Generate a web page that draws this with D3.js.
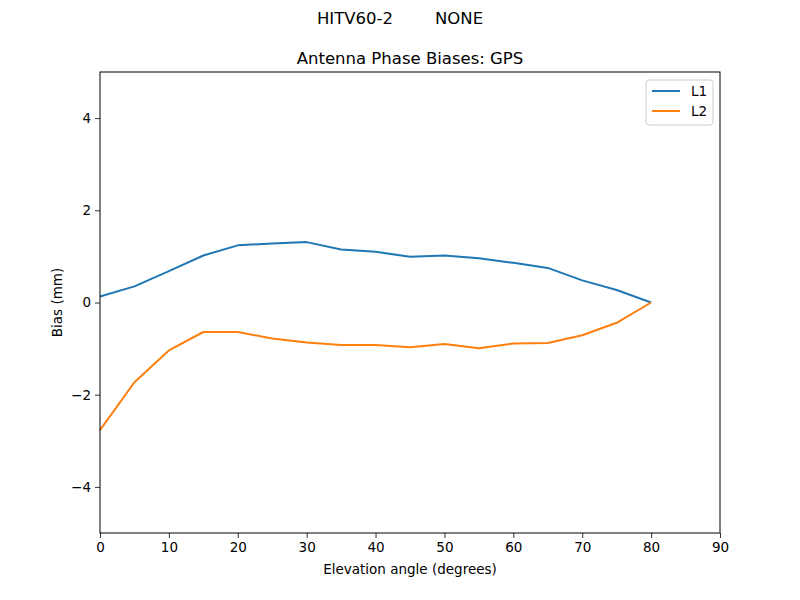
<!DOCTYPE html>
<html>
<head>
<meta charset="utf-8">
<script src="https://cdn.jsdelivr.net/npm/d3@7"></script>
<style>
  body { margin: 0; background: #fff; }
  text { font-family: "DejaVu Sans", sans-serif; fill: #000; }
</style>
</head>
<body>
<svg id="chart" width="800" height="600"></svg>
<script>
// elevation angles (degrees)
var elevation = [0, 5, 10, 15, 20, 25, 30, 35, 40, 45, 50, 55, 60, 65, 70, 75, 80];
// bias values (mm)
var l1 = [0.13, 0.35, 0.68, 1.02, 1.24, 1.28, 1.31, 1.15, 1.10, 0.99, 1.02, 0.96, 0.86, 0.75, 0.48, 0.27, 0.0];
var l2 = [-2.77, -1.73, -1.04, -0.64, -0.64, -0.78, -0.87, -0.92, -0.92, -0.97, -0.90, -0.99, -0.89, -0.88, -0.71, -0.44, 0.0];
var seriesNames = ["L1", "L2"];
var seriesColors = ["#1f77b4", "#ff7f0e"];
var xTicks = [0, 10, 20, 30, 40, 50, 60, 70, 80, 90];
var yTicks = [-4, -2, 0, 2, 4];

var svg = d3.select("#chart");
// note: "top" is taken by window.top, so keep plot edges in one place
var plotLeft = 100, plotRight = 720, plotTop = 72, plotBottom = 533;

var x = d3.scaleLinear().domain([0, 90]).range([plotLeft, plotRight]);
var y = d3.scaleLinear().domain([-5, 5]).range([plotBottom, plotTop]);

var fmt = function(d) { return d < 0 ? "\u2212" + Math.abs(d) : String(d); };

// titles
svg.append("text")
  .attr("x", 400).attr("y", 24)
  .attr("text-anchor", "middle")
  .style("font-size", "16.5px")
  .style("white-space", "pre")
  .text("HITV60-2        NONE");

svg.append("text")
  .attr("x", 410).attr("y", 64)
  .attr("text-anchor", "middle")
  .style("font-size", "16.5px")
  .text("Antenna Phase Biases: GPS");

// axes
var xAxis = svg.append("g")
  .attr("transform", "translate(0," + plotBottom + ")")
  .call(d3.axisBottom(x).tickValues(xTicks).tickFormat(fmt).tickSizeOuter(0).tickSize(5).tickPadding(4));

var yAxis = svg.append("g")
  .attr("transform", "translate(" + plotLeft + ",0)")
  .call(d3.axisLeft(y).tickValues(yTicks).tickFormat(fmt).tickSizeOuter(0).tickSize(5).tickPadding(4));

[xAxis, yAxis].forEach(function(a) {
  a.select(".domain").remove();
  a.selectAll("line").attr("stroke", "#000").attr("stroke-width", 0.8);
  a.selectAll("text").style("font-size", "13.5px").attr("fill", "#000");
});

svg.append("text")
  .attr("x", 410).attr("y", 574)
  .attr("text-anchor", "middle")
  .style("font-size", "13.5px")
  .text("Elevation angle (degrees)");

svg.append("text")
  .attr("transform", "translate(62," + ((plotTop + plotBottom) / 2) + ") rotate(-90)")
  .attr("text-anchor", "middle")
  .style("font-size", "13.5px")
  .text("Bias (mm)");

// lines
var line = d3.line()
  .x(function(d) { return x(d[0]); })
  .y(function(d) { return y(d[1]); });

[l1, l2].forEach(function(vals, i) {
  svg.append("path")
    .datum(elevation.map(function(e, j) { return [e, vals[j]]; }))
    .attr("fill", "none")
    .attr("stroke", seriesColors[i])
    .attr("stroke-width", 2)
    .attr("stroke-linejoin", "round")
    .attr("d", line);
});

// frame
svg.append("rect")
  .attr("x", plotLeft).attr("y", plotTop)
  .attr("width", plotRight - plotLeft).attr("height", plotBottom - plotTop)
  .attr("fill", "none")
  .attr("stroke", "#000")
  .attr("stroke-width", 1);

// legend
var legend = svg.append("g").attr("transform", "translate(646,80)");
legend.append("rect")
  .attr("width", 67).attr("height", 45)
  .attr("rx", 3)
  .attr("fill", "#fff").attr("fill-opacity", 0.8)
  .attr("stroke", "#ccc").attr("stroke-width", 1);

seriesNames.forEach(function(name, i) {
  var g = legend.append("g").attr("transform", "translate(0," + (11 + i * 20) + ")");
  g.append("line")
    .attr("x1", 6).attr("x2", 34)
    .attr("stroke", seriesColors[i]).attr("stroke-width", 2);
  g.append("text")
    .attr("x", 45).attr("y", 5)
    .style("font-size", "13.5px")
    .text(name);
});
</script>
</body>
</html>
